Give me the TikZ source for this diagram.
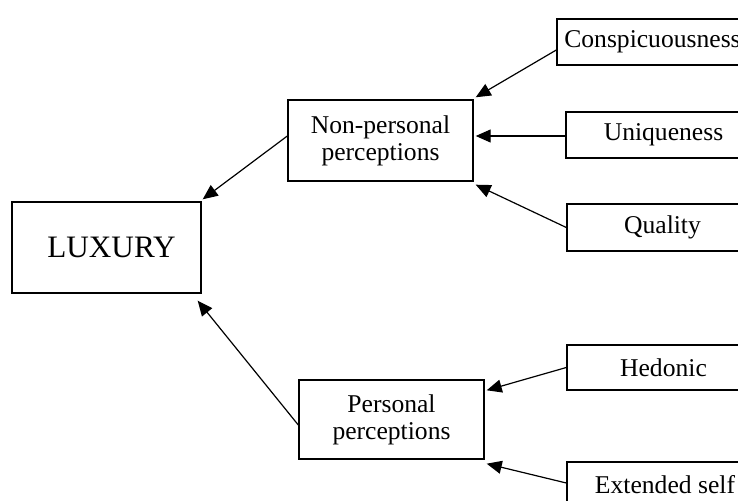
\documentclass[tikz,border=0pt]{standalone}
\usepackage{fontspec}
\setmainfont{Liberation Serif}
\usepackage{tikz}
\usetikzlibrary{arrows.meta}

\begin{document}
\begin{tikzpicture}[x=0.5pt,y=-0.5pt,
    facet/.style={draw, line width=0.7pt, align=center,
      font=\fontsize{12.8}{13.5}\selectfont, inner sep=0pt},
    link/.style={line width=0.6pt, -{Triangle[length=7.5pt,width=6.5pt]}}]
  \useasboundingbox (0,0) rectangle (738,501);
  \clip (0,0) rectangle (738,501);

  % Main box
  \node[facet, minimum width=94.5pt, minimum height=45.5pt,
        font=\fontsize{15.6}{17}\selectfont] (lux) at (106.5,247.5) {\hspace*{5pt}LUXURY};

  % Middle boxes
  \node[facet, minimum width=92.5pt, minimum height=40.5pt] (nonp) at (380.5,140.5) {Non-personal\\perceptions};
  \node[facet, minimum width=92.5pt, minimum height=39.5pt] (pers) at (391.5,419.5) {Personal\\perceptions};

  % Right boxes (cut by the page edge)
  \node[facet, minimum width=95.5pt, minimum height=23pt] (consp) at (652.5,42) {Conspicuousness};
  \node[facet, minimum width=97.5pt, minimum height=23pt] (uniq) at (663.5,135) {Uniqueness};
  \node[facet, minimum width=95.5pt, minimum height=23.5pt] (qual) at (662.5,227.5) {Quality};
  \node[facet, minimum width=96.5pt, minimum height=22.5pt] (hed) at (663.5,367.5) {Hedonic};
  \node[facet, minimum width=98pt, minimum height=23pt] (ext) at (665,485) {Extended self};

  % Arrows into LUXURY
  \draw[link] ([shift={(0,-4.5)}]nonp.west) -- ([shift={(1,-2)}]lux.north east);
  \draw[link] ([shift={(0,5.5)}]pers.west) -- ([shift={(-4,7)}]lux.south east);

  % Arrows into non-personal perceptions
  \draw[link] ([shift={(0,8)}]consp.west) -- ([shift={(2,-2)}]nonp.north east);
  \draw[link] ([shift={(0,1)}]uniq.west) -- ([shift={(2,-4.5)}]nonp.east);
  \draw[link] (qual.west) -- ([shift={(2,3)}]nonp.south east);

  % Arrows into personal perceptions
  \draw[link] (hed.west) -- ([shift={(2,11)}]pers.north east);
  \draw[link] ([shift={(0,-2)}]ext.west) -- ([shift={(2,4)}]pers.south east);

\end{tikzpicture}
\end{document}
